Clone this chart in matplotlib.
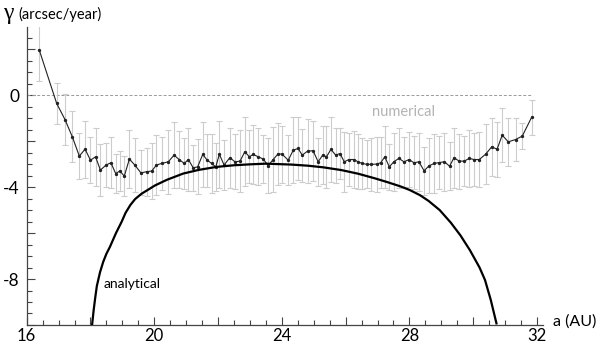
import matplotlib
matplotlib.use('Agg')
import matplotlib.pyplot as plt
from matplotlib.ticker import MultipleLocator, FuncFormatter

# numerical values (a in AU, gamma in arcsec/year)
a_num = [16.39, 16.94, 17.20, 17.43, 17.65, 17.83, 18.00, 18.16, 18.31, 18.49,
         18.64, 18.79, 18.92, 19.06, 19.22, 19.39, 19.58, 19.76, 19.92, 20.07,
         20.23, 20.44, 20.62, 20.78, 20.94, 21.07, 21.22, 21.36, 21.52, 21.66,
         21.80, 21.93, 22.04, 22.19, 22.37, 22.53, 22.69, 22.84, 22.98, 23.10,
         23.26, 23.42, 23.57, 23.73, 23.89, 24.02, 24.20, 24.36, 24.51, 24.64,
         24.81, 24.98, 25.14, 25.28, 25.40, 25.54, 25.69, 25.82, 25.96, 26.10,
         26.26, 26.39, 26.52, 26.66, 26.81, 26.97, 27.10, 27.23, 27.37, 27.51,
         27.67, 27.83, 27.99, 28.14, 28.30, 28.46, 28.62, 28.78, 28.94, 29.10,
         29.26, 29.40, 29.56, 29.72, 29.88, 30.02, 30.19, 30.39, 30.58, 30.75,
         30.91, 31.10, 31.33, 31.54, 31.83]
g_num = [1.98, -0.36, -1.06, -1.81, -2.65, -2.35, -2.83, -2.68, -3.26, -3.04,
         -2.94, -3.41, -3.30, -3.52, -2.78, -3.04, -3.38, -3.33, -3.30, -3.04,
         -2.97, -2.90, -2.61, -2.80, -2.97, -2.80, -3.16, -3.12, -2.58, -2.83,
         -2.97, -3.12, -2.57, -3.04, -2.72, -2.90, -2.87, -2.46, -2.68, -2.58,
         -2.68, -2.78, -3.07, -2.80, -2.54, -2.58, -2.83, -2.39, -2.32, -2.61,
         -2.43, -2.42, -2.90, -2.61, -2.68, -2.36, -2.61, -2.54, -2.90, -2.80,
         -2.80, -2.90, -2.97, -3.01, -3.01, -3.00, -2.94, -2.68, -3.12, -2.90,
         -2.75, -2.90, -2.80, -2.94, -2.90, -3.29, -3.07, -2.97, -2.93, -2.90,
         -3.09, -2.72, -2.87, -2.87, -2.75, -2.80, -2.80, -2.57, -2.25, -2.35,
         -1.74, -2.03, -1.93, -1.78, -0.97]
g_err = [1.35, 0.90, 1.10, 1.10, 1.00, 1.24, 1.00, 1.27, 1.13, 0.96,
         1.10, 0.85, 0.87, 0.88, 1.28, 1.17, 0.98, 1.05, 1.20, 1.30,
         1.15, 1.40, 1.45, 1.25, 1.10, 1.35, 1.00, 1.20, 1.40, 1.15,
         1.30, 1.05, 1.45, 1.10, 1.30, 1.20, 1.35, 1.50, 1.15, 1.30,
         1.25, 1.05, 1.20, 1.40, 1.35, 1.25, 1.10, 1.45, 1.35, 1.15,
         1.40, 1.30, 1.05, 1.25, 1.35, 1.40, 1.20, 1.10, 1.30, 1.15,
         1.25, 1.20, 1.10, 1.05, 1.15, 1.20, 1.10, 1.35, 1.00, 1.25,
         1.30, 1.10, 1.20, 1.15, 1.25, 1.05, 1.20, 1.30, 1.15, 1.25,
         1.05, 1.30, 1.20, 1.10, 1.25, 1.15, 1.20, 1.30, 1.27, 1.20,
         1.17, 1.05, 0.95, 0.57, 0.78]

# analytical curve
a_ana = [18.05, 18.10, 18.15, 18.20, 18.30, 18.40, 18.50, 18.61, 18.80, 18.98,
         19.10, 19.25, 19.40, 19.60, 19.87, 20.02, 20.40, 20.91, 21.40, 21.96,
         22.50, 23.00, 23.50, 23.90, 24.30, 24.83, 25.30, 25.87, 26.40, 26.92,
         27.30, 27.70, 28.00, 28.33, 28.60, 28.95, 29.30, 29.60, 29.90, 30.20,
         30.37, 30.55, 30.73]
g_ana = [-10.0, -9.35, -8.80, -8.30, -7.70, -7.25, -6.90, -6.60, -6.00, -5.50,
         -5.12, -4.78, -4.52, -4.29, -4.06, -3.93, -3.68, -3.41, -3.25, -3.12,
         -3.05, -3.01, -2.98, -3.00, -3.02, -3.07, -3.14, -3.26, -3.42, -3.62,
         -3.78, -3.96, -4.12, -4.35, -4.60, -5.00, -5.55, -6.10, -6.75, -7.50,
         -8.04, -8.90, -9.93]

plt.rcParams['font.family'] = ['Lato', 'DejaVu Sans']

fig = plt.figure(figsize=(6, 3.45), dpi=100)
ax = fig.add_axes([0.0445, 0.058, 0.86, 0.864])

ax.hlines(0, 16, a_num[-1], colors='#999999', linestyles=(0, (3, 2)), linewidth=0.7)

ax.errorbar(a_num, g_num, yerr=g_err, fmt='none', ecolor='#cccccc',
            elinewidth=0.8, capsize=2.5, capthick=0.8, zorder=2)
ax.plot(a_num, g_num, color='#222222', linewidth=0.8, marker='o',
        markersize=1.4, zorder=3)
ax.plot(a_ana, g_ana, color='black', linewidth=1.6, zorder=4)

ax.text(27.83, -0.75, 'numerical', color='#b3b3b3', fontsize=10.5,
        ha='center', va='center')
ax.text(18.4, -8.2, 'analytical', color='black', fontsize=10,
        ha='left', va='center')

ax.set_xlim(16, 32.18)
ax.set_ylim(-10, 2.97)

for s in ['top', 'right']:
    ax.spines[s].set_visible(False)
for s in ['left', 'bottom']:
    ax.spines[s].set_color('#444444')
    ax.spines[s].set_linewidth(0.9)

ax.xaxis.set_major_locator(MultipleLocator(2))
ax.xaxis.set_minor_locator(MultipleLocator(0.5))
ax.yaxis.set_major_locator(MultipleLocator(2))
ax.yaxis.set_minor_locator(MultipleLocator(0.5))
fmt = FuncFormatter(lambda v, p: '%d' % v if round(v) % 4 == 0 else '')
ax.xaxis.set_major_formatter(fmt)
ax.yaxis.set_major_formatter(fmt)
ax.tick_params(which='major', direction='in', length=6, width=0.8,
               color='#444444', labelsize=12.5, pad=5)
ax.tick_params(axis='x', which='major', labelsize=12, pad=2.5)
ax.tick_params(which='minor', direction='in', length=3.5, width=0.8,
               color='#444444')

fig.text(0.005, 0.962, 'γ', family='Liberation Serif', fontsize=17,
         ha='left', va='center')
fig.text(0.03, 0.958, '(arcsec/year)', fontsize=10.5, ha='left', va='center')
fig.text(0.922, 0.067, 'a (AU)', fontsize=11.5, ha='left', va='center')

fig.savefig('out.png', dpi=100)
